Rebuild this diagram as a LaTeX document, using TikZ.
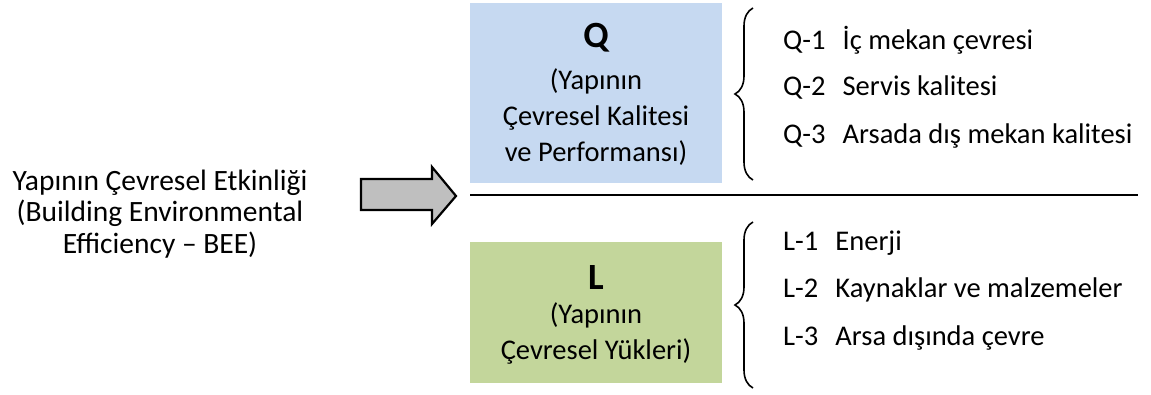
\documentclass[tikz,border=0pt]{standalone}
\usepackage{fontspec}
\setmainfont{Carlito}
\usetikzlibrary{decorations.pathreplacing}
\definecolor{qblue}{HTML}{C6D9F1}
\definecolor{lgreen}{HTML}{C3D69B}
\definecolor{arrgray}{HTML}{BFBFBF}
\tikzset{
  txt/.style={font=\fontsize{29.5}{31.5}\selectfont, inner sep=0pt, align=center},
  item/.style={font=\fontsize{28.5}{30}\selectfont, inner sep=0pt, anchor=west},
  boxtxt/.style={font=\fontsize{28.5}{36}\selectfont, inner sep=0pt, align=center},
  bigl/.style={font=\bfseries\fontsize{37}{40}\selectfont, inner sep=0pt},
  brc/.style={decorate, decoration={brace, amplitude=18pt, aspect=0.5}, line width=1.6pt},
}
\begin{document}
\begin{tikzpicture}[x=1pt,y=-1pt]
\useasboundingbox (0,0) rectangle (1151,394);
% left text
\node[txt] (bee) at (160,214) {Yapının Çevresel Etkinliği\\(Building Environmental\\Efficiency -- BEE)};
% block arrow
\draw[line width=2.2pt, fill=arrgray, line join=miter] (361,179) -- (432,179) -- (432,167) -- (456,196) -- (432,224) -- (432,210) -- (361,210) -- cycle;
% boxes
\node[fill=qblue, minimum width=252pt, minimum height=180pt, inner sep=0pt] (qbox) at (596,93) {};
\node[fill=lgreen, minimum width=252pt, minimum height=141pt, inner sep=0pt] (lbox) at (596,312.5) {};
\node[bigl] (qlet) at (596,38) {Q};
\node[boxtxt] (qtxt) at (596,117) {(Yapının\\Çevresel Kalitesi\\ve Performansı)};
\node[bigl] (llet) at (596,277) {L};
\node[boxtxt] (ltxt) at (596,333) {(Yapının\\Çevresel Yükleri)};
% separator line
\coordinate (s1) at (470,195);
\coordinate (s2) at (1138,195);
\draw[line width=2.2pt] (s1) -- (s2);
% braces
\coordinate (qb1) at (753,180);
\coordinate (qb2) at (753,8);
\draw[brc] (qb1) -- (qb2);
\coordinate (lb1) at (753,388);
\coordinate (lb2) at (753,222);
\draw[brc] (lb1) -- (lb2);
% items
\node[item] (q1) at (783,40) {Q-1\hspace{0.6em}İç mekan çevresi};
\node[item] (q2) at (783,87) {Q-2\hspace{0.6em}Servis kalitesi};
\node[item] (q3) at (783,136) {Q-3\hspace{0.6em}Arsada dış mekan kalitesi};
\node[item] (l1) at (783,243) {L-1\hspace{0.6em}Enerji};
\node[item] (l2) at (783,290) {L-2\hspace{0.6em}Kaynaklar ve malzemeler};
\node[item] (l3) at (783,338) {L-3\hspace{0.6em}Arsa dışında çevre};
\end{tikzpicture}
\end{document}
